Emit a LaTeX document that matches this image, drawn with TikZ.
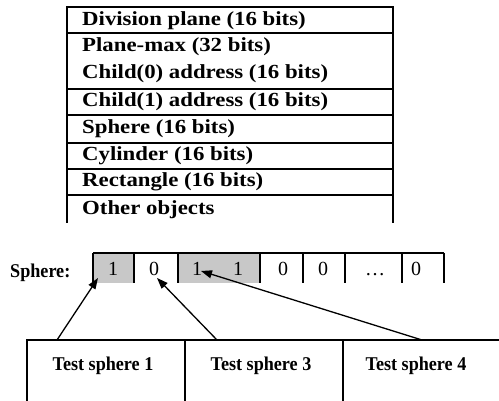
\documentclass[tikz,border=0pt]{standalone}
\usepackage{fontspec}
\setmainfont{Liberation Serif}
\newfontfamily\tablefont[FakeStretch=1.14]{Liberation Serif}
\newfontfamily\narrowfont[FakeStretch=0.93]{Liberation Serif}
\usetikzlibrary{arrows.meta}
\definecolor{cellgrey}{RGB}{200,200,200}
\begin{document}
\begin{tikzpicture}[x=1pt,y=-1pt,
  rule/.style={line width=1.5pt},
  lbl/.style={anchor=base west,inner sep=0pt,font=\tablefont\fontsize{20}{22}\selectfont\bfseries},
  side/.style={anchor=base west,inner sep=0pt,font=\narrowfont\fontsize{19.5}{22}\selectfont\bfseries},
  bit/.style={anchor=base,inner sep=0pt,font=\fontsize{20}{22}\selectfont},
  tst/.style={anchor=base,inner sep=0pt,font=\narrowfont\fontsize{19.5}{22}\selectfont\bfseries},
  arr/.style={line width=1.3pt,-{Triangle[length=11pt,width=8pt]}}]
\useasboundingbox (0,0) rectangle (499,401);
% ---- top table ----
\draw[rule] (67,223) -- (67,7) -- (393,7) -- (393,223);
\foreach \yy in {33,89,115,143,169,195} \draw[rule] (67,\yy) -- (393,\yy);
\node[lbl] (r1) at (82,26) {Division plane (16 bits)};
\node[lbl] (r2) at (82,52) {Plane-max (32 bits)};
\node[lbl] (r3) at (82,79) {Child(0) address (16 bits)};
\node[lbl] (r4) at (82,107) {Child(1) address (16 bits)};
\node[lbl] (r5) at (82,134) {Sphere (16 bits)};
\node[lbl] (r6) at (82,161) {Cylinder (16 bits)};
\node[lbl] (r7) at (82,187) {Rectangle (16 bits)};
\node[lbl] (r8) at (82,215) {Other objects};
% ---- bit vector ----
\fill[cellgrey] (94,254) rectangle (133,283);
\fill[cellgrey] (179,254) rectangle (259,283);
\draw[rule] (93,253) -- (444,253);
\foreach \xx in {93,134,178,260,303,345,402,444} \draw[rule] (\xx,253) -- (\xx,283);
\node[side] (sl) at (10,278) {Sphere:};
\node[bit] (b1) at (113,276) {1};
\node[bit] (b2) at (154,276) {0};
\node[bit] (b3) at (197,276) {1};
\node[bit] (b4) at (238,276) {1};
\node[bit] (b5) at (283,276) {0};
\node[bit] (b6) at (323,276) {0};
\node[bit] (b7) at (375,276) {\dots};
\node[bit] (b8) at (416,276) {0};
% ---- test boxes ----
\draw[rule] (27,401) -- (27,340) -- (499,340);
\draw[rule] (185,340) -- (185,401);
\draw[rule] (343,340) -- (343,401);
\node[tst] (t1) at (103,371) {Test sphere 1};
\node[tst] (t3) at (261,371) {Test sphere 3};
\node[tst] (t4) at (416,371) {Test sphere 4};
% ---- arrows ----
\coordinate (s1) at (57,340);
\coordinate (e1) at (98,278);
\coordinate (s2) at (217,340);
\coordinate (e2) at (157,278);
\coordinate (s3) at (422,340);
\coordinate (e3) at (201,271);
\draw[arr] (s1) -- (e1);
\draw[arr] (s2) -- (e2);
\draw[arr] (s3) -- (e3);
\end{tikzpicture}
\end{document}
